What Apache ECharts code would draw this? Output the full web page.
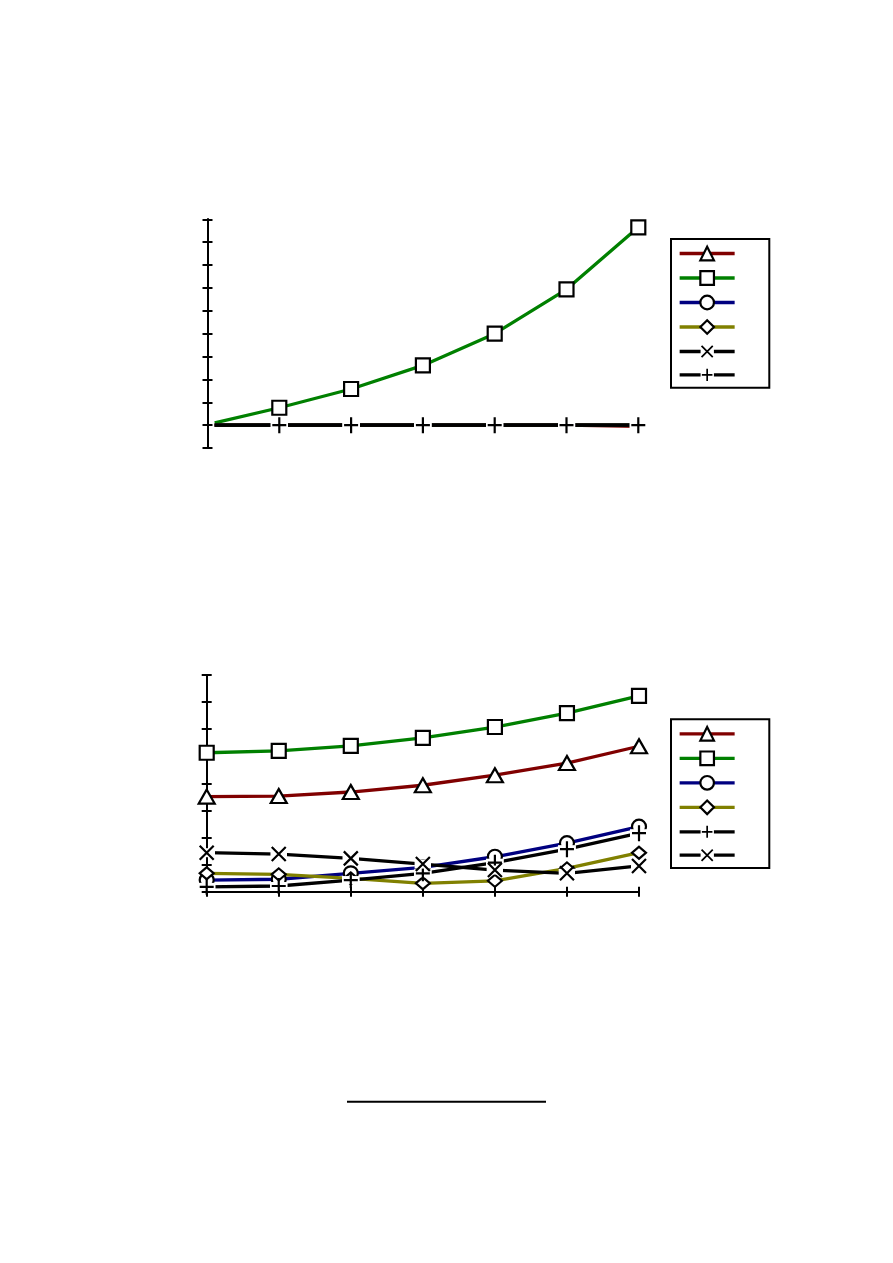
<!DOCTYPE html>
<html>
<head>
<meta charset="utf-8">
<script src="https://cdn.jsdelivr.net/npm/echarts@6/dist/echarts.min.js"></script>
<style>
html,body{margin:0;padding:0;background:#fff;}
#main{width:893px;height:1263px;}
</style>
</head>
<body>
<div id="main"></div>
<script>
// ---- data ----
var xs1 = [0.1, 1, 2, 3, 4, 5, 6];
var xs2 = [0, 1, 2, 3, 4, 5, 6];

var c1Red   = [0, 0, 0, 0, 0, 0, -0.05];
var c1Green = [0.1, 0.76, 1.58, 2.61, 4.0, 5.94, 8.65];
var c1Blue  = [0, 0.01, 0.01, 0.01, 0.01, 0.01, 0];
var c1Olive = [0, 0, 0, 0, 0, 0, 0];
var c1Cross = [0, 0, 0, 0, 0, 0, 0];
var c1Plus  = [0, 0, 0, 0, 0, 0, 0];

var c2Red   = [3.51, 3.53, 3.68, 3.93, 4.30, 4.75, 5.37];
var c2Green = [5.13, 5.20, 5.38, 5.68, 6.08, 6.59, 7.23];
var c2Blue  = [0.43, 0.46, 0.68, 0.90, 1.29, 1.79, 2.40];
var c2Olive = [0.68, 0.64, 0.49, 0.31, 0.40, 0.86, 1.44];
var c2Plus  = [0.18, 0.21, 0.43, 0.68, 1.07, 1.57, 2.16];
var c2Cross = [1.44, 1.39, 1.23, 1.02, 0.80, 0.68, 0.95];

var y1Range = [-1, 9];
var y2Range = [0, 8];

// ---- styles ----
var RED = '#800000', GREEN = '#008000', BLUE = '#000080', OLIVE = '#808000', BLACK = '#000000';
var LW = 3.3;

function svgUri(svg) { return 'image://data:image/svg+xml;charset=utf-8,' + encodeURIComponent(svg); }
var PLUS = svgUri("<svg xmlns='http://www.w3.org/2000/svg' width='18' height='18' viewBox='0 0 18 18'><rect x='0' y='5' width='18' height='8' fill='white'/><path d='M9 1V17M2 9H16' stroke='black' stroke-width='2.2' fill='none'/></svg>");
var CROSS = svgUri("<svg xmlns='http://www.w3.org/2000/svg' width='17' height='17' viewBox='0 0 17 17'><rect x='0' y='4' width='17' height='9' fill='white'/><path d='M1.5 1.5L15.5 15.5M15.5 1.5L1.5 15.5' stroke='black' stroke-width='2.2' fill='none'/></svg>");

function pairs(xs, ys, noFirstSymbol) {
  return ys.map(function (v, i) {
    if (noFirstSymbol && i === 0) return { value: [xs[i], v], symbol: 'none' };
    return [xs[i], v];
  });
}

function mk(name, color, symbol, size, xs, ys, gridIdx, opts) {
  opts = opts || {};
  var isLineSym = (symbol === PLUS || symbol === CROSS);
  return {
    name: name,
    type: 'line',
    xAxisIndex: gridIdx === 0 ? 0 : 1,
    yAxisIndex: gridIdx === 0 ? 0 : 2,
    data: pairs(xs, ys, opts.noFirst),
    symbol: symbol,
    symbolSize: size,
    showSymbol: opts.showSymbol !== false,
    lineStyle: { color: color, width: LW },
    itemStyle: isLineSym ? { color: '#000', borderWidth: 0 } : { color: '#ffffff', borderColor: '#000', borderWidth: 2.2 },
    emphasis: { disabled: true },
    silent: true,
    z: 2
  };
}

var series = [
  mk('a1', RED,   'triangle', [16, 14], xs1, c1Red,   0, { showSymbol: false }),
  mk('a2', GREEN, 'rect',     14,       xs1, c1Green, 0, { noFirst: true }),
  mk('a3', BLUE,  'circle',   14,       xs1, c1Blue,  0, { showSymbol: false }),
  mk('a4', OLIVE, 'diamond',  [14, 12], xs1, c1Olive, 0, { showSymbol: false }),
  mk('a5', BLACK, CROSS,      17,       xs1, c1Cross, 0, { showSymbol: false }),
  mk('a6', BLACK, PLUS,       18,       xs1, c1Plus,  0, { noFirst: true }),

  mk('b1', RED,   'triangle', [16, 14], xs2, c2Red,   1),
  mk('b2', GREEN, 'rect',     14,       xs2, c2Green, 1),
  mk('b3', BLUE,  'circle',   14,       xs2, c2Blue,  1),
  mk('b4', OLIVE, 'diamond',  [14, 12], xs2, c2Olive, 1),
  mk('b5', BLACK, PLUS,       18,       xs2, c2Plus,  1),
  mk('b6', BLACK, CROSS,      17,       xs2, c2Cross, 1)
];

function yAx(gridIndex, range, inside) {
  return {
    type: 'value', gridIndex: gridIndex, min: range[0], max: range[1], interval: 1,
    position: 'left',
    axisLine: { show: true, onZero: false, lineStyle: { color: '#000', width: 2 } },
    axisTick: { show: true, inside: inside, length: 5, lineStyle: { color: '#000', width: 2 } },
    axisLabel: { show: false }, splitLine: { show: false }
  };
}
function xAx(gridIndex, inside, show) {
  return {
    type: 'value', gridIndex: gridIndex, min: 0, max: 6, interval: 1,
    show: show, position: 'bottom',
    axisLine: { show: true, onZero: false, lineStyle: { color: '#000', width: 2 } },
    axisTick: { show: true, inside: inside, length: 5, lineStyle: { color: '#000', width: 2 } },
    axisLabel: { show: false }, splitLine: { show: false }
  };
}

function legend(names, top) {
  return {
    orient: 'vertical', left: 671, top: top,
    data: names,
    itemWidth: 55, itemHeight: 17, itemGap: 8.1,
    padding: [6, 33, 6, 7],
    borderColor: '#000', borderWidth: 2, borderRadius: 0,
    backgroundColor: '#fff',
    formatter: function () { return ''; },
    textStyle: { fontSize: 10 },
    lineStyle: { width: LW },
    itemStyle: { borderWidth: 2.2 },
    selectedMode: false
  };
}

var option = {
  animation: false,
  backgroundColor: '#ffffff',
  grid: [
    { left: 207.5, top: 219.3, width: 430.8, height: 228.7, outerBoundsMode: 'none', containLabel: false },
    { left: 206.7, top: 675, width: 432.3, height: 216.7, outerBoundsMode: 'none', containLabel: false }
  ],
  xAxis: [
    xAx(0, false, false),
    xAx(1, false, true),
    xAx(1, true, true)
  ],
  yAxis: [
    yAx(0, y1Range, false),
    yAx(0, y1Range, true),
    yAx(1, y2Range, false),
    yAx(1, y2Range, true)
  ],
  legend: [
    legend(['a1', 'a2', 'a3', 'a4', 'a5', 'a6'], 239),
    legend(['b1', 'b2', 'b3', 'b4', 'b5', 'b6'], 719.3)
  ],
  graphic: [
    { type: 'line', shape: { x1: 347, y1: 1101.7, x2: 546, y2: 1101.7 }, style: { stroke: '#000', lineWidth: 2 }, silent: true }
  ],
  series: series
};

var chart = echarts.init(document.getElementById('main'), null, { renderer: 'canvas' });
chart.setOption(option);
</script>
</body>
</html>
